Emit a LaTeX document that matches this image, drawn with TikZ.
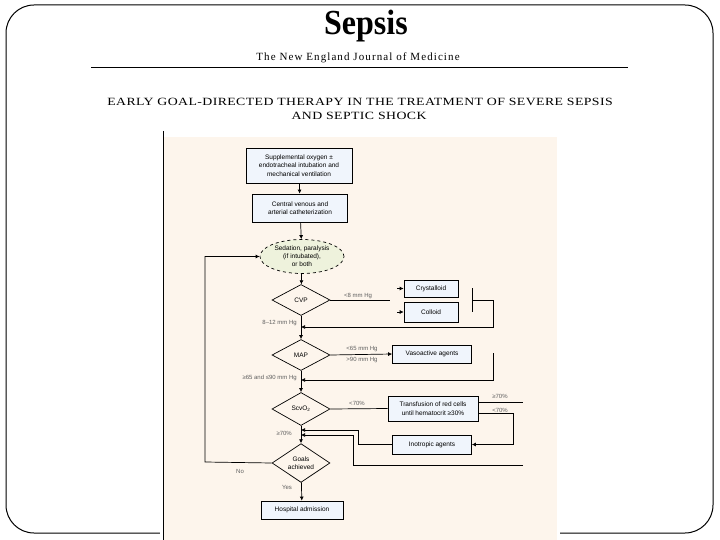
\documentclass[tikz,border=0pt]{standalone}
\usepackage{fontspec}
\setmainfont{Liberation Serif}
\newfontfamily\chartfont{Liberation Sans}
\usetikzlibrary{positioning,calc,arrows.meta,shapes.geometric}
\definecolor{mybeige}{RGB}{253,245,236}
\definecolor{myboxfill}{RGB}{240,245,252}
\definecolor{mygreen}{RGB}{238,242,220}
\definecolor{mygrey}{RGB}{95,95,95}
\begin{document}
\begin{tikzpicture}[x=1pt,y=-1pt,
box/.style={rectangle,draw,fill=myboxfill,line width=0.7pt,inner sep=1pt,align=center,
  font=\chartfont\fontsize{6.5}{8.5}\selectfont},
dia/.style={diamond,draw,fill=mybeige,line width=0.7pt,inner sep=0pt,align=center,
  minimum width=58,minimum height=31,font=\chartfont\fontsize{6.5}{8}\selectfont},
edge/.style={-{Latex[length=4pt,width=4pt]},line width=0.7pt},
link/.style={line width=0.7pt},
lbl/.style={text=mygrey,inner sep=0pt,font=\chartfont\fontsize{6}{7}\selectfont},
headline/.style={inner sep=0pt,yscale=0.8,
  font=\fontsize{13.8}{14}\selectfont\addfontfeatures{LetterSpace=3}}]

\useasboundingbox (0,0) rectangle (720,540);

% slide frame
\draw[line width=1pt,rounded corners=28] (6,5) rectangle (713,533);
\fill[white] (160,524) rectangle (560,540);

% page heading
\node[yscale=1.1] (title) at (366,26) {\fontsize{32}{32}\selectfont\bfseries Sepsis};
\node (journal) at (358,58)
  {\fontsize{11}{12}\selectfont\addfontfeatures{LetterSpace=10}The New England Journal of Medicine};
\draw[line width=0.8pt] (91,67) -- (628,67);
\node[headline] (heading1) at (360,102) {EARLY GOAL-DIRECTED THERAPY IN THE TREATMENT OF SEVERE SEPSIS};
\node[headline] (heading2) at (359,116) {AND SEPTIC SHOCK};

% figure panel
\fill[mybeige] (164,137) rectangle (557,540);
\draw[line width=0.8pt] (163,131) -- (163,540);

% nodes
\node[box,minimum width=106,minimum height=35] (supp) at (299,165.5)
  {Supplemental oxygen ±\\endotracheal intubation and\\mechanical ventilation};
\node[box,minimum width=95,minimum height=28] (cath) at (300,208)
  {Central venous and\\arterial catheterization};
\node[ellipse,draw,dashed,fill=mygreen,line width=0.7pt,inner sep=0pt,align=center,
  minimum width=84,minimum height=34,font=\chartfont\fontsize{6.5}{8}\selectfont] (sed) at (302,256.5)
  {Sedation, paralysis\\(if intubated),\\or both};
\node[dia] (cvp) at (301,300) {CVP};
\node[dia] (map) at (301,355) {MAP};
\node[dia,minimum height=33] (scv) at (301,409) {ScvO\textsubscript{2}};
\node[dia,minimum height=33] (goal) at (301,463) {Goals\\achieved};
\node[box,minimum width=82,minimum height=18] (hosp) at (302,510) {Hospital admission};

\node[box,minimum width=54,minimum height=17] (cry) at (431,288.5) {Crystalloid};
\node[box,minimum width=54,minimum height=20] (col) at (431,312) {Colloid};
\node[box,minimum width=79,minimum height=18] (vaso) at (432,354) {Vasoactive agents};
\node[box,minimum width=90,minimum height=25] (trans) at (433,408.5)
  {Transfusion of red cells\\until hematocrit ≥30\%};
\node[box,minimum width=79,minimum height=19] (ino) at (432,444.5) {Inotropic agents};

% hidden points
\coordinate (cvpend) at (390,300);
\coordinate (cryin) at (397,288.5);
\coordinate (colin) at (397,312);
\coordinate (fluidtop) at (472,288);
\coordinate (fluidbot) at (472,312);
\coordinate (fluidmid) at (472,300);
\coordinate (fluidret) at (301,327);
\coordinate (vasotop) at (493,353);
\coordinate (vasoret) at (301,380);
\coordinate (transhigh) at (523,402);
\coordinate (inoret) at (301,430);
\coordinate (highin) at (523,465);
\coordinate (highret) at (301,435);
\coordinate (loopx) at (205,462);

% main column
\draw[edge] (supp) -- (cath);
\draw[edge] (cath) -- (sed);
\draw[edge] (sed) -- (cvp);
\draw[edge] (cvp) -- (map);
\draw[edge] (map) -- (scv);
\draw[edge] (scv) -- (goal);
\draw[edge] (goal) -- (hosp);
\draw[edge] (goal.west) -- (loopx) |- (sed.west);

% CVP branch
\draw[link] (cvp.east) -- (cvpend);
\draw[edge] (cryin) -- (cry.west);
\draw[edge] (colin) -- (col.west);
\draw[link] (fluidtop) -- (fluidbot);
\draw[edge] (fluidmid) -| (493,327) -- (fluidret);

% MAP branch
\draw[edge] (map.east) -- (vaso.west);
\draw[edge] (vasotop) |- (vasoret);

% ScvO2 branch
\draw[link] (scv.east) -- (trans.west);
\draw[link] (trans.east |- transhigh) -- (transhigh);
\draw[edge] ([yshift=-4.5]trans.east) -| (513,444.5) -- (ino.east);
\draw[edge] (ino.west) -- (358,444.5) |- (inoret);
\draw[edge] (highin) -- (353,465) |- (highret);

% labels
\node[lbl] at (358,296) {<8 mm Hg};
\node[lbl,anchor=east] at (297,323) {8–12 mm Hg};
\node[lbl] at (362,349) {<65 mm Hg};
\node[lbl] at (362,360) {>90 mm Hg};
\node[lbl,anchor=east] at (297,378) {≥65 and ≤90 mm Hg};
\node[lbl] at (357,403) {<70\%};
\node[lbl] at (500,396) {≥70\%};
\node[lbl] at (500,410) {<70\%};
\node[lbl,anchor=east] at (292,433) {≥70\%};
\node[lbl] at (240,471) {No};
\node[lbl] at (287,487) {Yes};

\end{tikzpicture}
\end{document}
